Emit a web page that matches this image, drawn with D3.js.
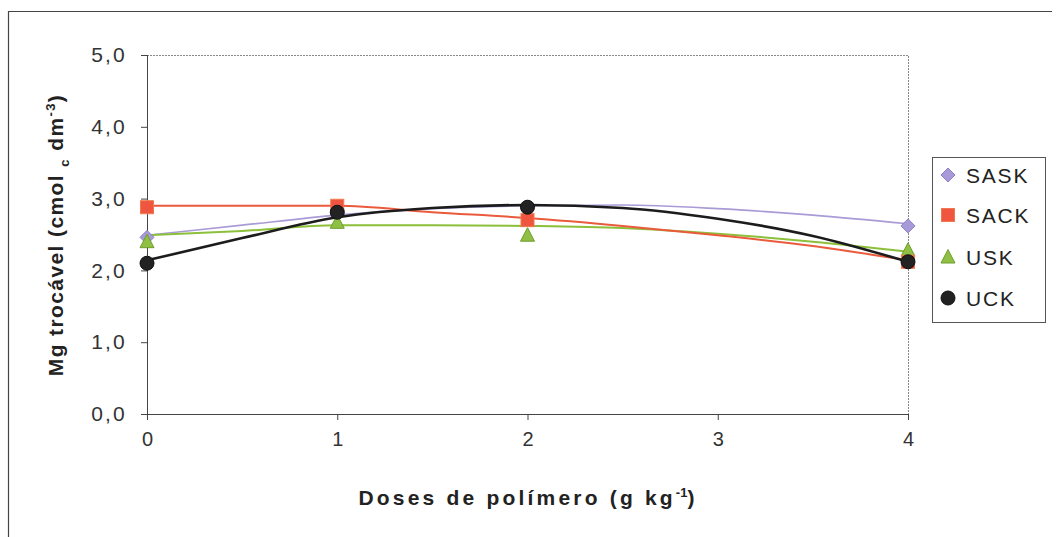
<!DOCTYPE html>
<html>
<head>
<meta charset="utf-8">
<script src="https://cdn.jsdelivr.net/npm/d3@7"></script>
<style>
  html, body { margin: 0; padding: 0; background: #fff; }
  svg { display: block; }
  text { font-family: "Liberation Sans", Arial, sans-serif; }
</style>
</head>
<body>
<svg id="chart" width="1056" height="537"></svg>
<script>
// ---- data ----
const doses = [0, 1, 2, 4];
const seriesNames = ["SASK", "SACK", "USK", "UCK"];
const saskValues = [2.46, 2.80, 2.88, 2.62];
const sackValues = [2.88, 2.90, 2.70, 2.12];
const uskValues  = [2.40, 2.67, 2.49, 2.28];
const uckValues  = [2.10, 2.81, 2.88, 2.12];

// trend lines as drawn in the picture
const trendX     = [0, 0.5, 1, 1.5, 2, 2.5, 3, 3.5, 4];
const saskTrend  = [2.49, 2.63, 2.77, 2.86, 2.90, 2.91, 2.86, 2.77, 2.65];
const sackTrend  = [2.90, 2.90, 2.90, 2.81, 2.73, 2.62, 2.49, 2.34, 2.14];
const uskTrend   = [2.49, 2.55, 2.63, 2.63, 2.62, 2.59, 2.51, 2.40, 2.26];
const uckTrend   = [2.14, 2.45, 2.74, 2.87, 2.91, 2.87, 2.72, 2.48, 2.12];

const xTicks = [0, 1, 2, 3, 4];
const yTicks = [0, 1, 2, 3, 4, 5];

// ---- layout ----
const svg = d3.select("#chart");
const pLeft = 147, pRight = 908, pTop = 55, pBottom = 414;

const x = d3.scaleLinear().domain([0, 4]).range([pLeft, pRight]);
const y = d3.scaleLinear().domain([0, 5]).range([pBottom, pTop]);

const styles = {
  SASK: { line: "#a99bd6", fill: "#a89ad8", stroke: "#8d7fc4", width: 1.6, marker: "diamond" },
  SACK: { line: "#ea5a3c", fill: "#f0553f", stroke: "#f07a50", width: 2, marker: "square" },
  USK:  { line: "#8cbf3a", fill: "#8fc044", stroke: "#6e9e2a", width: 2, marker: "triangle" },
  UCK:  { line: "#1c1c1c", fill: "#222", stroke: "#111", width: 2.6, marker: "circle" }
};
const values = { SASK: saskValues, SACK: sackValues, USK: uskValues, UCK: uckValues };
const trends = { SASK: saskTrend, SACK: sackTrend, USK: uskTrend, UCK: uckTrend };

// outer frame
svg.append("path")
  .attr("d", "M8.5,540 L8.5,11.5 L1052,11.5")
  .attr("fill", "none").attr("stroke", "#444").attr("stroke-width", 1.2);

// plot area border (top/right dotted)
svg.append("path")
  .attr("d", `M${pLeft},${pTop + 0.5} L${pRight + 0.5},${pTop + 0.5} L${pRight + 0.5},${pBottom}`)
  .attr("fill", "none").attr("stroke", "#888").attr("stroke-width", 1)
  .attr("stroke-dasharray", "2,1");

// axes
const yAxis = d3.axisLeft(y).tickValues(yTicks).tickSize(6).tickPadding(14)
  .tickFormat(d => d3.format(".1f")(d).replace(".", ","));
const gy = svg.append("g").attr("transform", `translate(${pLeft},0)`).call(yAxis);
gy.select(".domain").attr("stroke", "#444").attr("d", `M0.5,${pTop}V${pBottom}`);
gy.selectAll(".tick line").attr("stroke", "#444").attr("x2", -6);
gy.selectAll(".tick text").attr("font-size", 21).attr("fill", "#333")
  .attr("letter-spacing", 2.2)
  .attr("font-family", "'Liberation Sans', Arial, sans-serif");

const xAxis = d3.axisBottom(x).tickValues(xTicks).tickSize(6).tickPadding(12)
  .tickFormat(d3.format("d"));
const gx = svg.append("g").attr("transform", `translate(0,${pBottom})`).call(xAxis);
gx.select(".domain").attr("stroke", "#444").attr("d", `M${pLeft},0.5H${pRight}`);
gx.selectAll(".tick line").attr("stroke", "#444");
gx.selectAll(".tick text").attr("font-size", 20).attr("fill", "#333")
  .attr("font-family", "'Liberation Sans', Arial, sans-serif");

// trend lines
const line = d3.line().x((d, i) => x(trendX[i])).y(d => y(d)).curve(d3.curveMonotoneX);
["SASK", "USK", "SACK", "UCK"].forEach(name => {
  svg.append("path")
    .attr("d", line(trends[name]))
    .attr("fill", "none")
    .attr("stroke", styles[name].line)
    .attr("stroke-width", styles[name].width)
    .attr("stroke-linejoin", "round");
});

// markers
function drawMarker(g, type, cx, cy, st) {
  if (type === "diamond") {
    g.append("path").attr("d", `M${cx},${cy - 7} L${cx + 7},${cy} L${cx},${cy + 7} L${cx - 7},${cy} Z`)
      .attr("fill", st.fill).attr("stroke", st.stroke).attr("stroke-width", 1);
  } else if (type === "square") {
    g.append("rect").attr("x", cx - 6.5).attr("y", cy - 6.5).attr("width", 13).attr("height", 13)
      .attr("fill", st.fill).attr("stroke", st.stroke).attr("stroke-width", 1);
  } else if (type === "triangle") {
    g.append("path").attr("d", `M${cx},${cy - 7.5} L${cx + 7},${cy + 6} L${cx - 7},${cy + 6} Z`)
      .attr("fill", st.fill).attr("stroke", st.stroke).attr("stroke-width", 1);
  } else {
    g.append("circle").attr("cx", cx).attr("cy", cy).attr("r", 7)
      .attr("fill", st.fill).attr("stroke", st.stroke).attr("stroke-width", 1);
  }
}
const mg = svg.append("g");
["SASK", "USK", "SACK", "UCK"].forEach(name => {
  values[name].forEach((v, i) => drawMarker(mg, styles[name].marker, x(doses[i]), y(v), styles[name]));
});

// axis titles
const yt = svg.append("text")
  .attr("transform", `translate(63,235) rotate(-90)`)
  .attr("text-anchor", "middle")
  .attr("font-size", 21).attr("font-weight", "bold").attr("fill", "#222")
  .attr("letter-spacing", 1.4);
yt.append("tspan").text("Mg trocável  (cmol ");
yt.append("tspan").attr("font-size", 13).attr("dy", 6).text("c");
yt.append("tspan").attr("dy", -6).text(" dm");
yt.append("tspan").attr("font-size", 13).attr("dy", -8).text("-3");
yt.append("tspan").attr("dy", 8).text(")");

const xt = svg.append("text")
  .attr("x", 528).attr("y", 505)
  .attr("text-anchor", "middle")
  .attr("font-size", 21).attr("font-weight", "bold").attr("fill", "#222")
  .attr("letter-spacing", 3.2);
xt.append("tspan").text("Doses de polímero (g kg");
xt.append("tspan").attr("font-size", 13).attr("dy", -8).attr("letter-spacing", 0).text("-1");
xt.append("tspan").attr("dy", 8).text(")");

// legend
const lg = svg.append("g");
lg.append("rect").attr("x", 932.5).attr("y", 157.5).attr("width", 113).attr("height", 165)
  .attr("fill", "#fff").attr("stroke", "#555").attr("stroke-width", 1);
const legendY = [175, 215, 257, 298];
seriesNames.forEach((name, i) => {
  drawMarker(lg, styles[name].marker, 948, legendY[i], styles[name]);
  lg.append("text").attr("x", 966).attr("y", legendY[i]).attr("dy", "0.36em")
    .attr("font-size", 21).attr("fill", "#222").attr("letter-spacing", 1.8).text(name);
});
</script>
</body>
</html>
